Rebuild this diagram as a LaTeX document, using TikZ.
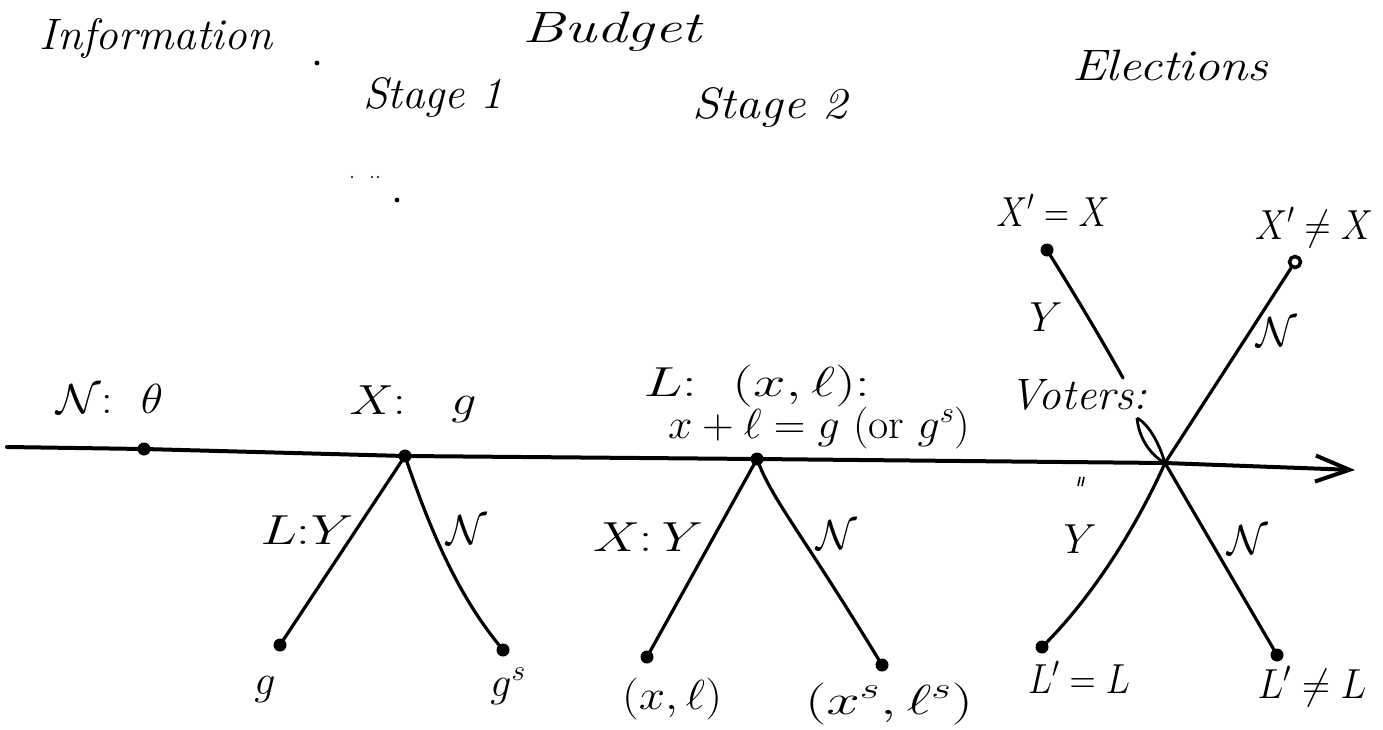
\RequirePackage{fix-cm}
\documentclass[tikz,border=0pt]{standalone}
\usepackage{graphicx}
\usepackage{amssymb}
\usetikzlibrary{arrows.meta}
\newcommand{\hw}[2]{\resizebox{#1pt}{\height}{#2}}
\tikzset{
  txt/.style={anchor=base, inner sep=0pt, font=\fontsize{42}{48}\selectfont},
  wtxt/.style={anchor=base, inner sep=0pt, font=\fontsize{44}{52}\selectfont\itshape},
  dotnode/.style={circle, fill=black, inner sep=0pt, minimum size=13pt},
  tline/.style={line width=4pt, line cap=round, line join=round},
  edge/.style={line width=3.2pt, line cap=round},
  speck/.style={fill=black},
}
\begin{document}
\begin{tikzpicture}[x=1pt,y=-1pt]
\useasboundingbox (0,0) rectangle (1383,730);

% headings
\node[wtxt] (tInfo) at (156,50) {\hw{232}{Information}};
\node[wtxt] (tBud) at (612,43) {\hw{179}{Budget}};
\node[wtxt] (tS1) at (433,109) {\hw{140}{Stage 1}};
\node[wtxt] (tS2) at (770,119) {\hw{155}{Stage 2}};
\node[wtxt] (tEl) at (1170,81) {\hw{196}{Elections}};

% timeline nodes
\coordinate (start) at (7,447);
\node[dotnode] (nat) at (144,449) {};
\node[dotnode] (s1) at (405,456) {};
\node[dotnode] (s2) at (757,459) {};
\coordinate (vot) at (1165,463);
\coordinate (tip) at (1355,470);

\draw[tline,-{Straight Barb[length=34pt,width=26pt]}] (start) -- (nat.center) -- (s1.center) -- (s2.center) -- (vot) -- (tip);

% leaves
\node[dotnode] (g) at (280,645) {};
\node[dotnode] (gs) at (503,650) {};
\node[dotnode] (xl) at (647,657) {};
\node[dotnode] (xsls) at (882,665) {};
\node[dotnode] (lL) at (1042,647) {};
\node[dotnode] (lnL) at (1277,655) {};
\node[dotnode] (xX) at (1047,250) {};
\node[circle, draw=black, fill=white, line width=3.5pt, inner sep=0pt, minimum size=11pt] (xnX) at (1295,262) {};
\coordinate (vtop) at (1123,378);
\coordinate (vloop) at (1137,418);

% branches
\draw[edge] (s1.center) -- (g.center);
\draw[edge] (s1.center) .. controls (440,560) and (470,610) .. (gs.center);
\draw[edge] (s2.center) -- (xl.center);
\draw[edge] (s2.center) .. controls (772,500) and (800,530) .. (xsls.center);
\draw[edge] (vot) .. controls (1135,530) and (1090,600) .. (lL.center);
\draw[edge] (vot) -- (lnL.center);
\draw[edge] (vot) -- (xnX);
\draw[edge] (xX.center) .. controls (1072,290) and (1102,340) .. (vtop);
\draw[line width=2.8pt] (vloop) .. controls (1139,440) and (1152,456) .. (vot) .. controls (1160,446) and (1150,425) .. (vloop);

% labels on timeline
\node[txt] (lNat) at (110,413) {\hw{106}{$\mathcal{N}$:\ \ $\theta$}};
\node[txt] (lS1) at (413,414) {\hw{127}{$X$:\ \ \ $g$}};
\node[txt] (lS2a) at (757,396) {\hw{227}{$L$:\ \ $(x,\ell)$:}};
\node[txt] (lS2b) at (819,438) {\hw{302}{$x+\ell=g$ (or $g^s$)}};
\node[wtxt] (tVot) at (1078,409) {\hw{137}{Voters:}};

% edge labels
\node[txt] (e1) at (307,544) {\hw{93}{$L$:$Y$}};
\node[txt] (e2) at (467,544) {$\mathcal{N}$};
\node[txt] (e3) at (648,551) {\hw{110}{$X$:\,$Y$}};
\node[txt] (e4) at (837,549) {$\mathcal{N}$};
\node[txt] (e5) at (1080,553) {$Y$};
\node[txt] (e6) at (1248,554) {$\mathcal{N}$};
\node[txt] (e7) at (1046,331) {$Y$};
\node[txt] (e8) at (1277,346) {$\mathcal{N}$};

% leaf labels
\node[txt] (tg) at (265,694) {$g$};
\node[txt] (tgs) at (508,696) {$g^s$};
\node[txt] (txl) at (672,709) {\hw{100}{$(x,\ell)$}};
\node[txt] (txsls) at (889,714) {\hw{168}{$(x^s,\ell^s)$}};
\node[txt] (tlL) at (1079,693) {\hw{102}{$L'=L$}};
\node[txt] (tlnL) at (1312,698) {\hw{109}{$L'\neq L$}};
\node[txt] (txX) at (1053,226) {\hw{113}{$X'=X$}};
\node[txt] (txnX) at (1314,239) {\hw{118}{$X'\neq X$}};

% stray pen marks
\fill[speck] (317,63) circle (2.4);
\fill[speck] (397,200) circle (2.4);
\fill[speck] (352,177) circle (1.1);
\fill[speck] (372,177) circle (1.1);
\fill[speck] (378,177) circle (1.1);
\draw[line width=1.6pt] (1080,477) -- (1078,486) (1084,477) -- (1082,486);
\end{tikzpicture}
\end{document}
